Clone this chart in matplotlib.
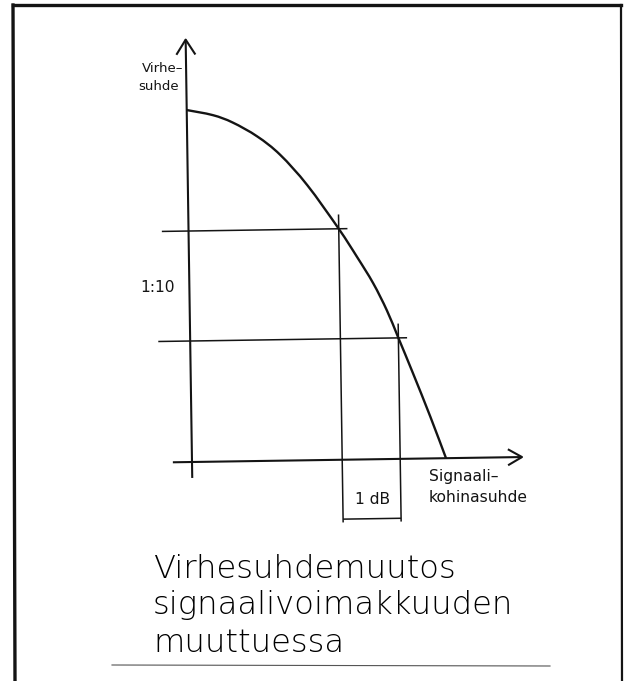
import matplotlib
matplotlib.use("Agg")
import matplotlib.pyplot as plt
from matplotlib.lines import Line2D
from matplotlib.patches import PathPatch
from matplotlib.path import Path
from matplotlib.transforms import Affine2D

# ---- chart data -------------------------------------------------------------
# Error-ratio curve: signal-to-noise ratio (dB from the vertical axis)
# against error ratio (decades above the horizontal axis)
snr_db = [0.00, 0.45, 0.79, 1.21, 1.60, 2.06, 2.59, 2.90, 3.17,
          3.40, 3.59, 3.83, 4.12, 4.38]
error_dec = [3.20, 3.15, 3.08, 2.95, 2.78, 2.50, 2.10, 1.84, 1.60,
             1.35, 1.10, 0.78, 0.38, 0.00]

# Two readings on the curve: a 1 dB step gives a 1:10 change in error ratio
step_db = 1.0
step_decades = 1.0
mark_snr = [2.59, 2.59 + step_db]
mark_err = [2.10, 2.10 - step_decades]

y_axis_label = ["Virhe\u2013", "suhde"]
x_axis_label = ["Signaali\u2013", "kohinasuhde"]
step_db_label = "1 dB"
step_ratio_label = "1:10"
title_lines = ["Virhesuhdemuutos", "signaalivoimakkuuden", "muuttuessa"]

# ---- figure -----------------------------------------------------------------
W, H, DPI = 625, 681, 100
fig = plt.figure(figsize=(W / DPI, H / DPI), dpi=DPI, facecolor="white")
ax = fig.add_axes([0, 0, 1, 1])
ax.axis("off")

# plot scale: pixels per dB and per decade, origin of the axes in pixels
PX_DB, PX_DEC = 58.0, 110.0
OX, OY = 192.0, 462.0
ax.set_xlim(-OX / PX_DB, (W - OX) / PX_DB)
ax.set_ylim(-(H - OY) / PX_DEC, OY / PX_DEC)

# the diagram sits slightly rotated on the page
tilt = Affine2D().rotate_deg_around(OX, H - OY, 0.86)
tr = ax.transData + tilt

INK = "#141414"


def seg(xs, ys, lw=1.1):
    ax.add_line(Line2D(xs, ys, color=INK, lw=lw, transform=tr,
                       solid_capstyle="butt"))


def smooth_path(xs, ys):
    """Cubic Bezier path running through every given point."""
    pts = list(zip(xs, ys))
    n = len(pts)
    verts = [pts[0]]
    codes = [Path.MOVETO]
    for i in range(n - 1):
        p0 = pts[max(i - 1, 0)]
        p1 = pts[i]
        p2 = pts[i + 1]
        p3 = pts[min(i + 2, n - 1)]
        c1 = (p1[0] + (p2[0] - p0[0]) / 6, p1[1] + (p2[1] - p0[1]) / 6)
        c2 = (p2[0] - (p3[0] - p1[0]) / 6, p2[1] - (p3[1] - p1[1]) / 6)
        verts += [c1, c2, p2]
        codes += [Path.CURVE4] * 3
    return Path(verts, codes)


# axes with open arrowheads
y_top = 3.84
x_end = 5.69
seg([0, 0], [-0.145, y_top], lw=1.5)
seg([-9.5 / PX_DB, 0, 9.5 / PX_DB], [y_top - 15 / PX_DEC, y_top, y_top - 15 / PX_DEC], lw=1.5)
seg([-0.33, x_end], [0, 0], lw=1.5)
seg([x_end - 14 / PX_DB, x_end, x_end - 14 / PX_DB], [8 / PX_DEC, 0, -8 / PX_DEC], lw=1.5)

# the error-ratio curve
ax.add_patch(PathPatch(smooth_path(snr_db, error_dec), facecolor="none",
                       edgecolor=INK, lw=1.7, transform=tr))

# reading lines at the two points
h_start = [-0.46, -0.55]
for xs, ys, x0 in zip(mark_snr, mark_err, h_start):
    seg([x0, xs + 0.15], [ys, ys])
    seg([xs, xs], [-0.57, ys + 0.13])

# bracket under the 1 dB step
seg([mark_snr[0], mark_snr[1]], [-0.54, -0.54])

# ---- texts (page pixel positions) -----------------------------------------
def px_text(x, y, s, color=INK, **kw):
    return fig.text(x / W, 1 - y / H, s, color=color, **kw)


small = dict(family="DejaVu Sans", fontsize=11.2)
ylab = dict(family="DejaVu Sans", fontsize=9.6)
px_text(183, 68, y_axis_label[0], ha="right", va="center", **ylab)
px_text(179, 87, y_axis_label[1], ha="right", va="center", **ylab)
px_text(429, 477, x_axis_label[0], ha="left", va="center", **small)
px_text(429, 497, x_axis_label[1], ha="left", va="center", **small)
px_text(373, 499, step_db_label, ha="center", va="center", **small)
px_text(158, 288, step_ratio_label, ha="center", va="center", **small)

big = dict(family="DejaVu Sans", fontsize=23.2, fontweight="light")
for line, base in zip(title_lines, [578, 614, 652]):
    px_text(153, base, line, color="black", ha="left", va="baseline", **big)

# ---- page frame and rule ---------------------------------------------------
def page_line(xs, ys, lw, color=INK):
    fig.add_artist(Line2D([x / W for x in xs], [1 - y / H for y in ys],
                          transform=fig.transFigure, color=color, lw=lw,
                          solid_capstyle="projecting"))


page_line([13, 15], [5, 681], 2.4)
page_line([13, 621], [5, 5], 2.4)
page_line([621, 622], [5, 681], 1.6)
page_line([112, 550], [665, 666], 0.8, color="#555555")

fig.savefig("out.png", dpi=DPI, facecolor="white")
